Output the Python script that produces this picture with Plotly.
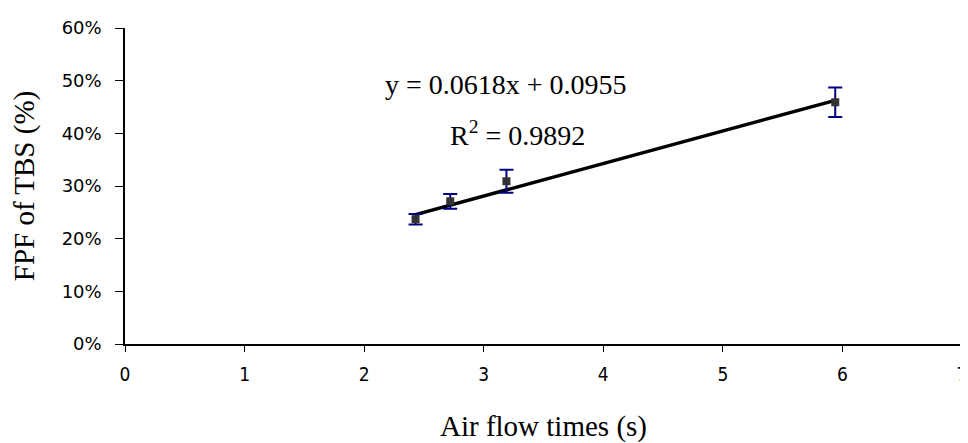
import plotly.graph_objects as go

air_flow_times = [2.43, 2.72, 3.19, 5.94]
fpf_tbs = [0.237, 0.271, 0.309, 0.459]
fpf_err = [0.010, 0.014, 0.022, 0.028]
trend_slope = 0.0618
trend_intercept = 0.0955
r_squared = 0.9892

x_ticks = [0, 1, 2, 3, 4, 5, 6, 7]
y_ticks = [0, 0.1, 0.2, 0.3, 0.4, 0.5, 0.6]
y_tick_labels = ["0%", "10%", "20%", "30%", "40%", "50%", "60%"]

serif = "Liberation Serif, Times New Roman, serif"
sans = "DejaVu Sans, sans-serif"
sans_cond = "DejaVu Sans Condensed, DejaVu Sans, sans-serif"

fig = go.Figure()

tx = [min(air_flow_times), max(air_flow_times)]
ty = [trend_slope * v + trend_intercept for v in tx]
fig.add_trace(go.Scatter(x=tx, y=ty, mode="lines",
                         line=dict(color="black", width=3.5), showlegend=False))

fig.add_trace(go.Scatter(
    x=air_flow_times, y=fpf_tbs, mode="markers",
    marker=dict(symbol="square", size=8, color="#333333"),
    error_y=dict(type="data", array=fpf_err, visible=True,
                 color="#000080", thickness=2, width=7),
    showlegend=False))

fig.add_annotation(x=3.19, y=0.492, xref="x", yref="y",
                   text=f"y = {trend_slope}x + {trend_intercept}",
                   showarrow=False, font=dict(family=serif, size=28, color="black"))
fig.add_annotation(x=3.28, y=0.40, xref="x", yref="y",
                   text=f"R<sup>2</sup> = {r_squared}",
                   showarrow=False, font=dict(family=serif, size=28, color="black"))

# page has an 8px body margin, so the figure is 8px smaller than the window
fig.update_layout(
    width=960, height=435,
    margin=dict(l=117, r=6, t=20, b=99),
    paper_bgcolor="white", plot_bgcolor="white",
    xaxis=dict(range=[0, 7], tickvals=x_ticks, showgrid=False, zeroline=False,
               automargin=False, ticklabeloverflow="allow",
               showline=True, linecolor="black", linewidth=1.5,
               ticks="outside", ticklen=6, tickcolor="black",
               ticklabelstandoff=6,
               tickfont=dict(family=sans_cond, size=19, color="black"),
               title=dict(text="Air flow times (s)", standoff=36,
                          font=dict(family=serif, size=29, color="black"))),
    yaxis=dict(range=[0, 0.6], tickvals=y_ticks, ticktext=y_tick_labels,
               showgrid=False, zeroline=False,
               automargin=False, ticklabeloverflow="allow",
               showline=True, linecolor="black", linewidth=1.5,
               ticks="outside", ticklen=8, tickcolor="black",
               ticklabelstandoff=10,
               tickfont=dict(family=sans, size=18, color="black"),
               title=dict(text="FPF of TBS (%)", standoff=18,
                          font=dict(family=serif, size=29, color="black"))),
)

fig.write_html("out.html")
